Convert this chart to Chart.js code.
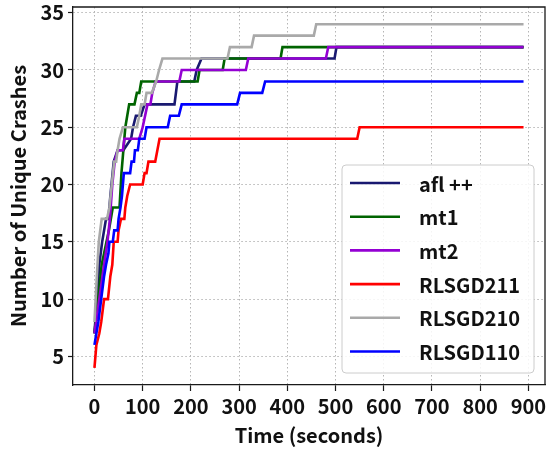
<!DOCTYPE html>
<html>
<head>
<meta charset="utf-8">
<script src="https://cdn.jsdelivr.net/npm/chart.js@4.4.1/dist/chart.umd.min.js"></script>
<style>
    html, body { margin: 0; padding: 0; background: #fff; }
    #wrap { width: 547px; height: 450px; }
</style>
</head>
<body>
<div id="wrap"><canvas id="crashChart" width="547" height="450"></canvas></div>
<script>
// Dados (tempo em segundos, falhas únicas)
const seriesNames = ['afl ++', 'mt1', 'mt2', 'RLSGD211', 'RLSGD210', 'RLSGD110'];
const seriesColors = ['#191970', '#006400', '#9400d3', '#ff0000', '#a9a9a9', '#0000ff'];

const aflTimes = [0, 5, 10, 16, 24, 29, 33, 40, 48, 60, 76, 80, 86, 96, 104, 166, 172, 207, 212, 222, 498, 502, 890];
const aflCrashes = [7, 10, 13, 15, 17, 17, 19, 22, 23, 23, 24, 25, 26, 26, 27, 27, 29, 29, 30, 31, 31, 32, 32];

const mt1Times = [0, 10, 15, 20, 30, 38, 52, 56, 60, 64, 68, 72, 83, 88, 93, 97, 214, 218, 266, 270, 386, 390, 890];
const mt1Crashes = [7, 11, 13, 14, 16, 18, 18, 21, 23, 25, 26, 27, 27, 28, 28, 29, 29, 30, 30, 31, 31, 32, 32];

const mt2Times = [0, 10, 20, 27, 32, 37, 42, 48, 59, 62, 93, 100, 110, 116, 120, 127, 176, 181, 314, 319, 480, 485, 890];
const mt2Crashes = [7, 10, 13, 15, 17, 20, 22, 23, 23, 24, 24, 25, 27, 27, 28, 29, 29, 30, 30, 31, 31, 32, 32];

const rl211Times = [0, 2, 4, 10, 14, 17, 20, 28, 33, 37, 40, 48, 50, 55, 62, 64, 68, 74, 100, 104, 108, 112, 126, 135, 545, 550, 890];
const rl211Crashes = [4, 5, 6, 7, 8, 9, 10, 10, 12, 13, 15, 15, 16, 17, 17, 18, 19, 20, 20, 21, 21, 22, 22, 24, 24, 25, 25];

const rl210Times = [0, 5, 9, 12, 15, 26, 31, 36, 41, 45, 48, 52, 59, 88, 93, 97, 104, 108, 119, 128, 134, 141, 276, 281, 326, 331, 455, 460, 890];
const rl210Crashes = [8, 12, 15, 16, 17, 17, 18, 20, 22, 22, 23, 24, 25, 25, 26, 27, 27, 28, 28, 29, 30, 31, 31, 32, 32, 33, 33, 34, 34];

const rl110Times = [0, 8, 14, 20, 24, 29, 31, 38, 41, 48, 50, 54, 57, 59, 61, 74, 77, 82, 84, 90, 93, 104, 108, 152, 157, 175, 181, 296, 302, 348, 354, 890];
const rl110Crashes = [6, 8, 10, 12, 13, 14, 15, 15, 16, 16, 17, 18, 19, 20, 21, 21, 22, 22, 23, 23, 24, 24, 25, 25, 26, 26, 27, 27, 28, 28, 29, 29];

const xTicks = [0, 100, 200, 300, 400, 500, 600, 700, 800, 900];
const yTicks = [5, 10, 15, 20, 25, 30, 35];

const allTimes = [aflTimes, mt1Times, mt2Times, rl211Times, rl210Times, rl110Times];
const allCrashes = [aflCrashes, mt1Crashes, mt2Crashes, rl211Crashes, rl210Crashes, rl110Crashes];

const FONT = "'Noto Sans CJK JP', 'Noto Sans', sans-serif";
const FONT_SIZE = 20;
const AXIS_COLOR = '#1a1a1a';
const LINE_WIDTH = 2.6;

// Moldura superior/direita e legenda dentro da área do gráfico
const framePlugin = {
    id: 'frame',
    afterDraw(chart) {
        const { ctx, chartArea: a } = chart;
        ctx.save();
        ctx.strokeStyle = AXIS_COLOR;
        ctx.lineWidth = 1.3;
        ctx.beginPath();
        ctx.moveTo(a.left, a.top);
        ctx.lineTo(a.right, a.top);
        ctx.lineTo(a.right, a.bottom);
        ctx.stroke();

        // legenda
        const bx = 342, by = 165, bw = 192, bh = 208, r = 4;
        ctx.fillStyle = 'rgba(255,255,255,0.85)';
        ctx.strokeStyle = '#cccccc';
        ctx.lineWidth = 1;
        ctx.beginPath();
        ctx.roundRect(bx, by, bw, bh, r);
        ctx.fill();
        ctx.stroke();

        ctx.font = 'bold ' + FONT_SIZE + 'px ' + FONT;
        ctx.textBaseline = 'middle';
        ctx.textAlign = 'left';
        seriesNames.forEach((name, i) => {
            const y = 183 + i * 33.7;
            ctx.strokeStyle = seriesColors[i];
            ctx.lineWidth = LINE_WIDTH;
            ctx.beginPath();
            ctx.moveTo(350, y);
            ctx.lineTo(400, y);
            ctx.stroke();
            ctx.fillStyle = '#111';
            ctx.fillText(name, 419, y + 1);
        });
        ctx.restore();
    }
};

const datasets = seriesNames.map((name, i) => ({
    label: name,
    data: allTimes[i].map((t, j) => ({ x: t, y: allCrashes[i][j] })),
    borderColor: seriesColors[i],
    backgroundColor: seriesColors[i],
    borderWidth: LINE_WIDTH,
    pointRadius: 0,
    tension: 0,
    fill: false,
    order: -i
}));

const tickFont = { family: FONT, size: FONT_SIZE, weight: 'bold' };

new Chart(document.getElementById('crashChart'), {
    type: 'line',
    data: { datasets },
    options: {
        responsive: false,
        animation: false,
        layout: { padding: { left: 0, top: 7, right: 2, bottom: 0 } },
        plugins: {
            legend: { display: false },
            tooltip: { enabled: false }
        },
        scales: {
            x: {
                type: 'linear',
                min: -44.5,
                max: 934.5,
                afterBuildTicks: (scale) => { scale.ticks = xTicks.map(v => ({ value: v })); },
                afterFit: (scale) => {
                    scale.height = 65;
                    scale.paddingLeft = 0;
                    scale.paddingRight = 0;
                },
                ticks: {
                    color: '#111',
                    font: tickFont,
                    padding: 3,
                    maxRotation: 0,
                    autoSkip: false
                },
                grid: {
                    color: '#b5b5b5',
                    lineWidth: 1,
                    tickLength: 6,
                    tickColor: AXIS_COLOR,
                    tickWidth: 1.2,
                    tickBorderDash: []
                },
                border: { display: true, color: AXIS_COLOR, width: 1.3, dash: [1.5, 2.5] },
                title: {
                    display: true,
                    text: 'Time (seconds)',
                    color: '#111',
                    font: tickFont,
                    padding: { top: 0, bottom: 3 }
                }
            },
            y: {
                type: 'linear',
                min: 2.5,
                max: 35.5,
                afterBuildTicks: (scale) => { scale.ticks = yTicks.map(v => ({ value: v })); },
                afterFit: (scale) => {
                    scale.width = 73;
                    scale.paddingTop = 0;
                    scale.paddingBottom = 0;
                },
                ticks: {
                    color: '#111',
                    font: tickFont,
                    padding: 4
                },
                grid: {
                    color: '#b5b5b5',
                    lineWidth: 1,
                    tickLength: 5,
                    tickColor: AXIS_COLOR,
                    tickWidth: 1.2,
                    tickBorderDash: []
                },
                border: { display: true, color: AXIS_COLOR, width: 1.3, dash: [1.5, 2.5] },
                title: {
                    display: true,
                    text: 'Number of Unique Crashes',
                    color: '#111',
                    font: tickFont,
                    padding: { top: 6, bottom: 0 }
                }
            }
        }
    },
    plugins: [framePlugin]
});
</script>
</body>
</html>
